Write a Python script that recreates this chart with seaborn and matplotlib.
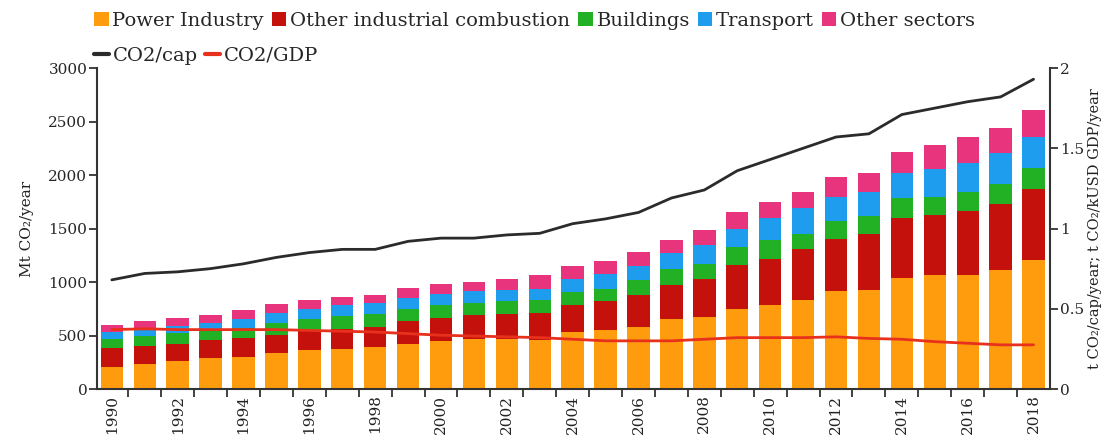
import numpy as np
import pandas as pd
import matplotlib
matplotlib.use("Agg")
import matplotlib.pyplot as plt
import seaborn as sns
from matplotlib.patches import Patch
from matplotlib.lines import Line2D

years = list(range(1990, 2019))
power_industry = [210, 236, 260, 286, 298, 340, 361, 378, 392, 422, 448, 469, 469, 462, 537,
                  553, 584, 650, 672, 750, 781, 828, 913, 922, 1038, 1063, 1063, 1109, 1203]
other_industrial = [175, 169, 160, 169, 182, 168, 181, 186, 188, 209, 214, 219, 234, 250, 244,
                    266, 297, 325, 353, 406, 438, 478, 487, 531, 562, 562, 600, 616, 666]
buildings = [80, 95, 102, 93, 93, 109, 111, 121, 120, 119, 119, 118, 119, 116, 125,
             118, 135, 144, 147, 172, 172, 147, 169, 166, 181, 172, 181, 188, 194]
transport = [65, 70, 64, 72, 83, 91, 93, 97, 100, 105, 105, 107, 100, 107, 119,
             141, 134, 156, 172, 172, 203, 235, 228, 225, 235, 259, 265, 290, 296]
other_sectors = [68, 70, 78, 72, 82, 82, 86, 81, 80, 92, 95, 87, 109, 127, 125,
                 116, 131, 122, 140, 156, 150, 150, 187, 172, 203, 225, 250, 235, 250]
co2_cap = [0.68, 0.72, 0.73, 0.75, 0.78, 0.82, 0.85, 0.87, 0.87, 0.92, 0.94, 0.94, 0.96, 0.97, 1.03,
           1.06, 1.10, 1.19, 1.24, 1.36, 1.43, 1.50, 1.57, 1.59, 1.71, 1.75, 1.79, 1.82, 1.93]
co2_gdp = [0.37, 0.375, 0.37, 0.37, 0.37, 0.37, 0.365, 0.36, 0.355, 0.345, 0.335, 0.33, 0.325, 0.32, 0.31,
           0.30, 0.30, 0.30, 0.31, 0.32, 0.32, 0.32, 0.325, 0.315, 0.31, 0.295, 0.285, 0.275, 0.275]

sector_names = ["Power Industry", "Other industrial combustion", "Buildings", "Transport", "Other sectors"]
sector_colors = ["#FF9C0E", "#C4110C", "#22B024", "#1E9DEE", "#E8337D"]
sectors = [power_industry, other_industrial, buildings, transport, other_sectors]

sns.set_theme(style="white")
plt.rcParams['font.family'] = ['DejaVu Serif']

df = pd.DataFrame({"year": years})
cum = np.cumsum(np.array(sectors), axis=0)
for name, c in zip(sector_names, cum):
    df[name] = c

fig = plt.figure(figsize=(11.06, 4.36), dpi=100)
ax = fig.add_axes([97/1106, 1-389/436, (1050-97)/1106, (389-68)/436])

for name, col in reversed(list(zip(sector_names, sector_colors))):
    sns.barplot(data=df, x="year", y=name, native_scale=True, color=col, saturation=1,
                width=0.68, ax=ax, linewidth=0, errorbar=None)

ax2 = ax.twinx()
line_df = pd.DataFrame({"year": years, "CO2/cap": co2_cap, "CO2/GDP": co2_gdp})
sns.lineplot(data=line_df, x="year", y="CO2/cap", color="#2b2b2b", lw=2.0, ax=ax2)
sns.lineplot(data=line_df, x="year", y="CO2/GDP", color="#E8311C", lw=2.0, ax=ax2)

ax.set_xlim(1989.55, 2018.5)
ax2.set_xlim(1989.55, 2018.5)
ax.set_ylim(0, 3000)
ax2.set_ylim(0, 2)
ax.set_yticks(range(0, 3001, 500))
ax2.set_yticks([0, 0.5, 1, 1.5, 2])
ax2.set_yticklabels(["0", "0.5", "1", "1.5", "2"])

even_years = [y for y in years if y % 2 == 0]
ax.set_xticks(even_years)
ax.set_xticklabels([str(y) for y in even_years], rotation=90)
ax.set_xticks(np.array(years[:-1]) + 0.5, minor=True)
ax.tick_params(axis="x", which="major", length=0, pad=4, labelsize=11, colors="#222")
ax.tick_params(axis="x", which="minor", length=6, width=1.3, color="#333", direction="out", bottom=True)
ax.tick_params(axis="y", length=6, width=1.3, color="#333", direction="out", left=True, labelsize=11, pad=1)
ax2.tick_params(axis="y", length=6, width=1.3, color="#333", direction="out", right=True, labelsize=11, pad=1)

for a in (ax, ax2):
    a.spines["top"].set_visible(False)
    for s in ("left", "right", "bottom"):
        a.spines[s].set_color("#333")
        a.spines[s].set_linewidth(1.5)
ax.spines["right"].set_visible(False)
ax2.spines["left"].set_visible(False)
ax2.spines["bottom"].set_visible(False)

ax.set_xlabel("")
ax2.set_xlabel("")
ax.set_ylabel("Mt CO₂/year", fontsize=11, color="#222", labelpad=10)
ax2.set_ylabel("t CO₂/cap/year; t CO₂/kUSD GDP/year", fontsize=10.5, color="#222", labelpad=3)

patch_handles = [Patch(facecolor=c, edgecolor="none", label=n) for n, c in zip(sector_names, sector_colors)]
fig.legend(handles=patch_handles, loc="upper left", bbox_to_anchor=(94/1106, 1-12/436), ncol=5,
           frameon=False, fontsize=14, handlelength=0.75, handleheight=0.75, handletextpad=0.2,
           columnspacing=0.4, borderaxespad=0, borderpad=0)
line_handles = [Line2D([], [], color="#2b2b2b", lw=3, label="CO2/cap"),
                Line2D([], [], color="#E8311C", lw=3, label="CO2/GDP")]
fig.legend(handles=line_handles, loc="upper left", bbox_to_anchor=(94/1106, 1-47/436), ncol=2,
           frameon=False, fontsize=14, handlelength=0.75, handletextpad=0.2,
           columnspacing=0.4, borderaxespad=0, borderpad=0)

fig.savefig("out.png", dpi=100)
